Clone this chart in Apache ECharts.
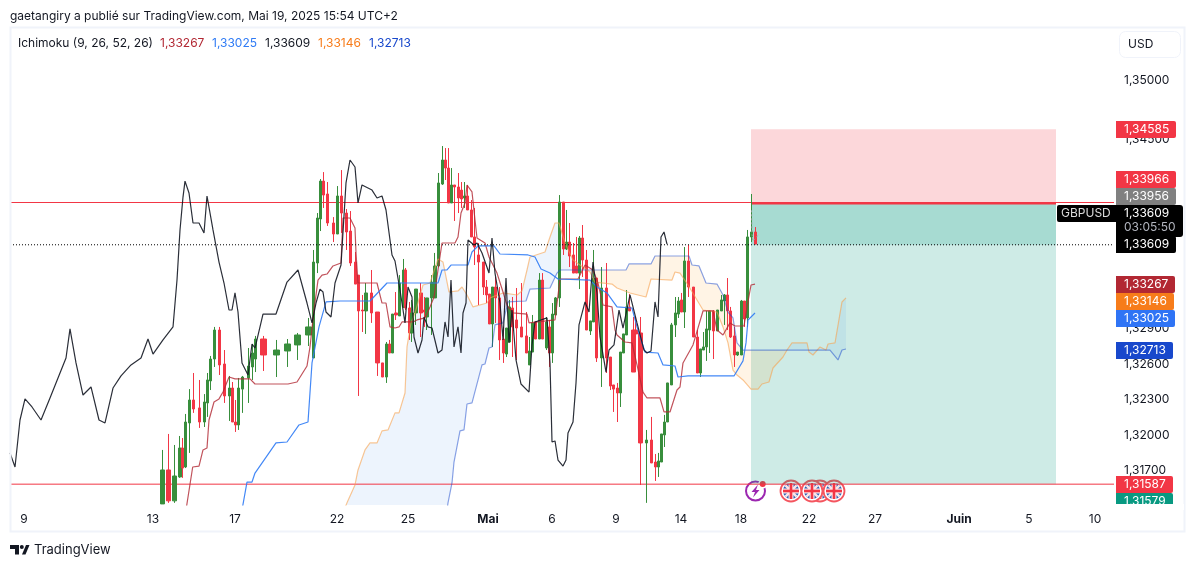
<!DOCTYPE html>
<html><head><meta charset="utf-8">
<script src="https://cdn.jsdelivr.net/npm/echarts@6/dist/echarts.min.js"></script>
<style>html,body{margin:0;padding:0;background:#fff}#c{width:1195px;height:567px}</style>
</head><body><div id="c"></div>
<script>
// prices in points (1 point = 0.00001). Candle rows: time position, open, close, low, high
const wideCandles=[
[263.3,132813,132678,132543,132839],[276.3,132678,132720,132492,132805],[287.3,132712,132771,132577,132813],[297.3,132763,132847,132636,132864],[308.3,132847,132915,132754,132991]];
const mediumCandles=[
[162.3,131420,131707,131420,131876],[168.3,131707,131446,131429,132011],[174.3,131446,131656,131429,131918],
[377.3,133041,132611,132501,133041],[633.3,132889,132534,132534,132999],[640.3,132864,131935,131580,132999]];
const thinCandles=[
[180,131648,131892,131640,131994],[182.5,131892,131723,131640,131977],[185.3,131732,132112,131723,132180],[189.3,132104,132298,131851,132390],[193.3,132298,132222,132189,132526],[199.3,132231,132112,132062,132467],[204.3,132112,132281,132070,132348],[207.3,132273,132467,132155,132526],[210.3,132459,132644,132382,132670],[214.3,132644,132889,132577,132915],[219.3,132889,132594,132509,132915],[224.3,132602,132332,132273,132720],[229.3,132332,132399,132121,132501],[232.3,132399,132112,132112,132450],[235.3,132112,132087,132028,132298],[238.3,132087,132399,132045,132484],[242.3,132390,132492,132189,132501],[248.3,132484,132585,132273,132737],[252.3,132577,132695,132467,132771],[255.3,132644,132813,132534,132839],
[313.3,132653,133463,132653,133565],[317.3,133455,133835,133370,133877],[320.3,133827,134147,133725,134164],[323.3,134147,134029,133920,134223],[327.3,134038,133793,133768,134139],[333.3,133793,133700,133632,133843],[337.3,133700,134021,133700,134105],[341.3,134021,133877,133709,134240],[346.3,133877,133717,133565,133911],[350.3,133725,133455,133430,133894],[355.3,133463,133277,133277,133548],[358.3,133353,133050,132332,133353],[362.3,133058,133050,132872,133185],[366,133050,133202,132856,133286],[371.3,133202,133033,132949,133396],
[382.3,132611,132492,132492,132611],[386.3,132492,132771,132442,132788],[389.3,132771,132695,132695,132805],[392.3,132695,133024,132695,133024],[396,133033,133016,132974,133210],[399.3,133008,133286,133008,133353],[403.3,133084,133396,133075,133489],[405.3,133396,133075,133058,133413],[410,133075,132864,132805,133126],[412,132864,133033,132788,133143],[416,133033,133235,132932,133235],[421,133202,133033,132830,133286],[425,133058,133041,132915,133168],[427,132999,133160,132889,133160],[431.3,133160,133294,132847,133353],[435,133160,133430,133160,133540],[438.3,133430,134131,133421,134215],[442.3,134122,134325,134114,134443],[445.3,134325,134257,134156,134426],[448.3,134257,133962,133962,134426],[451.3,133962,134114,133962,134257],[454.3,134114,134097,133810,134114],[458.3,134097,134004,133877,134215],[461.3,134071,133996,133920,134139],[464.3,134004,134021,133920,134139],[467.3,134021,133903,133903,134114],[471.3,133903,133675,133675,133987],[474.3,133675,133590,133438,133920],[478.3,133523,133463,133100,133624],[483.3,133463,133252,133185,133463],[486.3,133252,133185,133117,133311],[489.3,133193,132940,132940,133193],[492.3,132940,133252,132746,133252],[495.3,133252,133160,132949,133337],[499.3,133160,132805,132636,133252],[503.3,132813,132695,132611,132915],[506.3,132686,132906,132661,132906],[509.3,132788,133084,132788,133143],[512.3,133075,132915,132661,133168],[516.3,132974,132906,132636,133244],[521.3,132915,132830,132830,133286],[526.3,132839,132695,132695,133041],[529.3,132594,132712,132594,132830],[532.3,132703,132949,132703,133016],[535.3,132957,132813,132813,132957],[539.3,132813,133311,132813,133370],[542.3,133311,132813,132813,133370],[546.3,132737,132957,132720,132999],[549.3,132915,132695,132577,132974],[552.3,132695,133024,132611,133117],[555.3,133016,133160,133016,133168],[559.3,133160,133970,133084,134029],[563.3,133970,133573,133523,133970],[566.3,133573,133632,133565,133903],[569.3,133632,133514,133421,133793],[573.3,133523,133370,133370,133624],[576.3,133430,133370,133370,133675],[579.3,133370,133666,133235,133683],[582.3,133666,133480,133337,133776],[586.3,133480,132889,132889,133565],[590.3,132881,132966,132847,132966],[593.3,132957,133328,132957,133565],[596.3,133328,132653,132619,133328],[601.3,132653,133244,132408,133421],[606.3,133244,132653,132526,133455],[610.3,132661,132416,132382,132661],[613.3,132425,132390,132197,132425],[617.3,132399,132357,132112,132442],[620.3,132357,132703,132239,132703],[623.3,132695,132856,132695,132856],[626.3,132847,133084,132847,133227],[629.3,133084,133050,133050,133193],[636,132889,132856,132763,132999],
[646.3,131935,131960,131429,132045],[651.3,131960,131766,131766,132155],[655.3,131774,131732,131614,131842],[658.3,131732,131783,131648,131851],[661.3,131774,132011,131774,132011],[664.3,132003,132112,131901,132172],[667.3,132112,132442,132112,132442],[671.3,132425,132932,132425,132949],[675.3,132932,133033,132830,133168],[678.3,133024,133134,132991,133168],[681.3,133143,133041,133041,133202],[684.3,133041,133472,132906,133590],[688.3,133472,133252,133168,133607],[693.3,133252,132830,132830,133252],[697.3,132830,132526,132526,132889],[700.3,132526,132729,132492,132729],[703.3,132720,132746,132720,132872],[706.3,132746,132898,132628,133050],[709.3,132889,133050,132695,133050],[713.3,133050,132881,132644,133058],[717.3,132881,133058,132881,133058],[721.3,133050,133143,133050,133185],[724.3,133134,133185,132932,133193],[727.3,133185,133050,132889,133328],[730.3,133050,132830,132822,133084],[734.3,132839,132678,132577,132915],[737.3,132678,132703,132670,132703],[741.3,132678,133134,132678,133143],[744.3,133134,132982,132915,133134],[747.3,132991,133675,132915,133734],[751.3,133675,133717,133632,134038],[755.3,133717,133615,133615,133759]];
const tenkan=[[186,131369],[192.7,131732],[199,131740],[203,131876],[207,131892],[209,132129],[214,132281],[219,132307],[223,132365],[229,132492],[235,132476],[250,132476],[255,132433],[288,132433],[297,132450],[307,132585],[310,132746],[314,133058],[318,133311],[322,133353],[327,133362],[333,133430],[341,133455],[343,133835],[350,133835],[355,133751],[356,133540],[358,133286],[377,133286],[382,133117],[386,133117],[390,132915],[395,132906],[399,132915],[402,132957],[413,132957],[417,132974],[425,132991],[430,133084],[434,133168],[438,133396],[442,133624],[455,133624],[458,133675],[461,133877],[465,133962],[467,134114],[472,134055],[475,133818],[477,133666],[485,133624],[489,133506],[497,133370],[503,133210],[507,133100],[513,133033],[527,133024],[529,132949],[555,132974],[560,133320],[578,133320],[585,133438],[593,133396],[598,133286],[603,133100],[612,133084],[615,132889],[617,132847],[625,132788],[632,132780],[637,132594],[643,132365],[647,132315],[660,132315],[664,132197],[670,132197],[677,132382],[680,132408],[683,132611],[693,132763],[703,133050],[713,133050],[717,132889],[723,132847],[730,132949],[735,132923],[744,132923],[747,133084],[751,133269],[755,133277]];
const kijun=[[242,131369],[247,131605],[252,131605],[255,131681],[276,131935],[287,131943],[299,132087],[308,132112],[312,132611],[319,132915],[326,133126],[340,133134],[370,133134],[387,133286],[438,133286],[442,133396],[447,133396],[451,133438],[468,133438],[472,133548],[478,133599],[494,133599],[500,133531],[528,133523],[535,133506],[541,133404],[550,133370],[558,133320],[590,133311],[597,133252],[607,133202],[617,133084],[632,133075],[637,132915],[645,132703],[658,132695],[663,132594],[675,132585],[678,132492],[688,132501],[734,132501],[743,132628],[746,132780],[748,132974],[755,133033]];
const chikou=[[10,131851],[15,131732],[20,132129],[25,132307],[32,132239],[41,132129],[50,132315],[58,132484],[66,132653],[70,132898],[76,132611],[83,132340],[91,132408],[99,132129],[105,132104],[113,132399],[121,132501],[131,132594],[141,132653],[148,132813],[153,132686],[163,132805],[173,132915],[177,133311],[180,133734],[183,134012],[185,134147],[189,134046],[193,133793],[199,133793],[204,133709],[207,134021],[213,133734],[219,133463],[224,133286],[229,133058],[232,133058],[235,133202],[238,133041],[242,132611],[248,132509],[252,132771],[255,132737],[263,133024],[276,133024],[287,133294],[298,133396],[307,133117],[312,132949],[316,133117],[320,133235],[323,133210],[326,133041],[331,132999],[335,133286],[341,133438],[346,134131],[350,134325],[355,134266],[358,133962],[362,134114],[372,134071],[377,134004],[382,134021],[386,133903],[392,133523],[395,133472],[400,133227],[405,132949],[408,133252],[412,133168],[414,132830],[418,132695],[422,132805],[424,132999],[428,132915],[432,132906],[438,132695],[442,132720],[445,132957],[448,132830],[451,133311],[454,132746],[458,132915],[461,132695],[463,133033],[466,133117],[468,133649],[474,133607],[477,133624],[482,133540],[489,133370],[492,133666],[495,133370],[500,133117],[503,132805],[506,133328],[509,132780],[512,133058],[516,132636],[521,132433],[529,132365],[532,132763],[535,132957],[547,132991],[550,132611],[552,131943],[555,131952],[558,131791],[563,131740],[566,131791],[568,132020],[573,132112],[576,132442],[579,132932],[585,133126],[589,133041],[593,133463],[597,133202],[600,132830],[606,132534],[609,132720],[614,132763],[619,133058],[623,132906],[630,133185],[637,132949],[644,132720],[647,132695],[651,132712],[655,133126],[658,132999],[661,133675],[664,133717],[667,133615]];
const senkouA=[[344,131369],[347,131429],[355,131580],[358,131707],[365,131876],[370,131935],[377,131935],[382,132037],[388,132045],[395,132189],[399,132189],[405,132357],[407,132746],[411,132949],[415,133033],[423,133269],[430,133286],[438,133489],[443,133463],[446,133337],[449,133210],[458,133219],[462,133252],[467,133185],[473,133084],[487,133117],[490,133160],[503,133202],[517,133185],[522,133219],[527,133396],[530,133506],[545,133548],[550,133675],[555,133793],[559,133793],[565,133624],[573,133480],[587,133396],[590,133379],[595,133294],[612,133277],[617,133244],[630,133202],[646,133168],[651,133320],[672,133311],[675,133379],[680,133370],[688,133269],[697,133143],[703,133058],[717,133041],[723,132915],[728,132780],[733,132551],[737,132509],[743,132467],[751,132390],[758,132390],[762,132433],[769,132450],[773,132568],[783,132661],[787,132720],[792,132780],[807,132780],[809,132703],[813,132678],[820,132746],[826,132720],[828,132771],[835,132780],[842,133126],[846,133160]];
const senkouB=[[447,131369],[448,131429],[452,131597],[454,131774],[460,132037],[464,132045],[467,132264],[472,132273],[482,132594],[485,132602],[489,132737],[492,132746],[495,132932],[503,132949],[508,133126],[526,133134],[530,133235],[550,133244],[557,133370],[560,133396],[626,133396],[629,133447],[651,133447],[655,133514],[689,133514],[692,133438],[699,133430],[706,133286],[717,133277],[723,133185],[728,133041],[733,132991],[737,132780],[743,132720],[830,132720],[838,132636],[842,132720],[846,132729]];
const cloudSpans=[[344,587,'rgba(60,130,230,0.09)'],[587,787,'rgba(255,152,0,0.10)'],[787,846,'rgba(60,130,230,0.09)']];
const tradePath=[[751.5,133900],[752,133700],[753,133640],[759,133700]];
// trade tool and levels
const entryPrice=133956, stopPrice=134585, targetPrice=131587, lastPrice=133609, levelPrice=133966;
const toolStart=751, toolEnd=1056, paneStart=10, paneEnd=1114;
const zones=[[toolStart,toolEnd,stopPrice,entryPrice,'rgba(242,54,69,0.2)'],[toolStart,toolEnd,entryPrice,targetPrice,'rgba(8,153,129,0.2)'],[toolStart,toolEnd,entryPrice,lastPrice,'rgba(8,153,129,0.2)']];
const yTicks=[135000,134500,134000,133300,132900,132600,132300,132000,131700];
const xTickPos=[24,153,235,337,408,488,552,616,681,741,809,875,959,1029,1095];
const xTickLabels=['9','13','17','22','25','Mai','6','9','14','18','22','27','Juin','5','10'];
const boldLabels=['Mai','Juin'];
const legendValues=[['1,33267','#b22833',160],['1,33025','#2f7bf5',212],['1,33609','#131722',265],['1,33146','#f77c1a',318],['1,32713','#1848cc',369]];
const priceTags=[['1,34585','#f23645',121,60],['1,33966','#f23645',171,60],['1,33956','#808080',188,60],['1,33609','#000000',236,60],['1,33267','#b22833',276,59],['1,33146','#f77c1a',293,58],['1,33025','#2f74f5',310,59],['1,32713','#1848cc',342,57],['1,31587','#f23645',476,57],['1,31579','#089981',493,57]];

const FONT='Inter, "Noto Sans", sans-serif';
const chart=echarts.init(document.getElementById('c'),null,{renderer:'canvas'});
const candle=(name,data,w)=>({type:'candlestick',name,data,barWidth:w,z:3,clip:true,silent:true,
  encode:{x:0,y:[1,2,3,4]},
  itemStyle:{color:'#388e3c',color0:'#f23645',borderColor:'#388e3c',borderColor0:'#f23645',borderWidth:1}});
const line=(name,data,color,opacity,extra)=>Object.assign({type:'line',name,data,symbol:'none',showSymbol:false,clip:true,z:4,silent:true,
  lineStyle:{color,width:1.2,opacity}},extra||{});
const rectItem=(api,r,fill)=>{
  const a=api.coord([r[0],r[2]]),b=api.coord([r[1],r[3]]);
  return {type:'rect',shape:{x:a[0],y:a[1],width:b[0]-a[0],height:b[1]-a[1]},style:{fill}};
};
const g=[];
const txt=(x,y,text,fill,size,extra)=>g.push({type:'text',x,y,z:100,style:Object.assign({text,fill,font:(size||12)+'px '+FONT,textVerticalAlign:'middle'},extra||{})});
txt(10,16,'gaetangiry a publié sur TradingView.com, Mai 19, 2025 15:54 UTC+2','#131722');
txt(18,43,'Ichimoku (9, 26, 52, 26)','#131722');
legendValues.forEach(l=>txt(l[2],43,l[0],l[1]));
g.push({type:'rect',z:90,silent:true,shape:{x:10.5,y:27.5,width:1174,height:504},style:{fill:'none',stroke:'#f0f3fa',lineWidth:2}});
g.push({type:'rect',z:100,shape:{x:1119.5,y:31.5,width:61,height:26,r:6},style:{fill:'#fff',stroke:'#f0f3fa',lineWidth:1}});
txt(1128,44,'USD','#131722');
priceTags.forEach(t=>{
  g.push({type:'rect',z:100,shape:{x:1116,y:t[2],width:t[3],height:17,r:[0,2,2,0]},style:{fill:t[1]}});
  txt(1124,t[2]+8.5,t[0],'#fff');
});
g.push({type:'rect',z:100,shape:{x:1116,y:205,width:67,height:32,r:[0,3,3,0]},style:{fill:'#000'}});
txt(1124,213,'1,33609','#fff');
txt(1124,227,'03:05:50','#b2b5be');
g.push({type:'rect',z:100,shape:{x:1057,y:205,width:59,height:17,r:[2,0,0,2]},style:{fill:'#000'}});
txt(1061,213.5,'GBPUSD','#dddddd');
g.push({type:'rect',z:101,shape:{x:1114,y:504,width:70,height:6},style:{fill:'#fff'}});
const lightning={type:'group',z:110,children:[
 {type:'circle',shape:{cx:755.5,cy:491,r:9.5},style:{fill:'#fff',stroke:'#9c27b0',lineWidth:2}},
 {type:'polygon',shape:{points:[[758,484.5],[751.5,492],[755,492],[753,497.5],[759.5,490],[756,490]]},style:{fill:'#9c27b0'}},
 {type:'circle',shape:{cx:762.7,cy:484,r:4.5},style:{fill:'#fff'}},
 {type:'circle',shape:{cx:762.7,cy:484,r:3},style:{fill:'#f23645'}}]};
g.push(lightning);
[820,834,791,812].forEach((cx,i)=>{
  const cy=491,ch=[
   {type:'circle',shape:{cx,cy,r:10.5},style:{fill:'#fff',stroke:'#f4555f',lineWidth:1.8}},
   {type:'circle',shape:{cx,cy,r:8},style:{fill:'#2f62b5'}}];
  [[-5.6,-5.6,5.6,5.6],[-5.6,5.6,5.6,-5.6]].forEach(l=>ch.push({type:'line',shape:{x1:cx+l[0],y1:cy+l[1],x2:cx+l[2],y2:cy+l[3]},style:{stroke:'#fde4e6',lineWidth:2.4}}));
  ch.push({type:'rect',shape:{x:cx-8,y:cy-2.5,width:16,height:5},style:{fill:'#fde4e6'}});
  ch.push({type:'rect',shape:{x:cx-2.5,y:cy-8,width:5,height:16},style:{fill:'#fde4e6'}});
  ch.push({type:'rect',shape:{x:cx-8,y:cy-1.3,width:16,height:2.6},style:{fill:'#f23645'}});
  ch.push({type:'rect',shape:{x:cx-1.3,y:cy-8,width:2.6,height:16},style:{fill:'#f23645'}});
  g.push({type:'group',z:110+i,children:ch});
});
g.push({type:'polygon',z:100,shape:{points:[[10,545],[19,545],[19,554.5],[15,554.5],[15,549],[10,549]]},style:{fill:'#131722'}});
g.push({type:'polygon',z:100,shape:{points:[[22,554.5],[26,545],[29.5,545],[25.5,554.5]]},style:{fill:'#131722'}});
g.push({type:'circle',z:100,shape:{cx:21.8,cy:547,r:2},style:{fill:'#131722'}});
txt(34,550,'TradingView','#131722',13);

chart.setOption({
  animation:false,
  grid:{left:paneStart,width:paneEnd-paneStart,top:28,height:477,containLabel:false},
  xAxis:{type:'value',min:paneStart,max:paneEnd,splitLine:{show:false},axisLine:{show:false},axisTick:{show:false},
    axisLabel:{customValues:xTickPos,margin:8,color:'#131722',fontFamily:FONT,fontSize:12,
      formatter:v=>{const s=xTickLabels[xTickPos.indexOf(v)];return boldLabels.includes(s)?'{b|'+s+'}':s;},
      rich:{b:{fontWeight:'bold',color:'#131722',fontFamily:FONT,fontSize:12}}}},
  yAxis:{type:'value',position:'right',min:131411,max:135440,scale:true,splitLine:{show:false},axisLine:{show:false},axisTick:{show:false},
    axisLabel:{customValues:yTicks,margin:10,align:'left',color:'#131722',fontFamily:FONT,fontSize:12,padding:[0,0,3,0],
      formatter:v=>(v/100000).toFixed(5).replace('.',',')}},
  graphic:g,
  series:[
    {type:'custom',name:'position',z:1,silent:true,clip:true,data:zones.map((r,i)=>[i]),encode:{x:[],y:[]},
      renderItem:(p,api)=>{const r=zones[p.dataIndex];return rectItem(api,r,r[4]);}},
    {type:'custom',name:'cloud',z:2,silent:true,clip:true,data:cloudSpans.map((r,i)=>[i]),encode:{x:[],y:[]},
      renderItem:(p,api)=>{
        const s=cloudSpans[p.dataIndex];
        const inRange=q=>q[0]>=s[0]&&q[0]<=s[1];
        const pts=senkouA.filter(inRange).concat(senkouB.filter(inRange).reverse()).map(q=>api.coord(q));
        return {type:'polygon',shape:{points:pts},style:{fill:s[2]}};
      }},
    candle('wide',wideCandles,6.5),candle('medium',mediumCandles,4),candle('thin',thinCandles,3),
    line('Level high',[[paneStart,levelPrice],[paneEnd,levelPrice]],'#f23645',1,{z:2,lineStyle:{color:'#f23645',width:1}}),
    line('Level low',[[paneStart,targetPrice],[paneEnd,targetPrice]],'#f23645',1,{z:2,lineStyle:{color:'#f23645',width:1}}),
    line('Entry',[[toolStart,entryPrice],[toolEnd,entryPrice]],'#f23645',1,{z:2,lineStyle:{color:'#f23645',width:1.5}}),
    line('Last',[[paneStart,lastPrice],[paneEnd,lastPrice]],'#000',1,{z:5,lineStyle:{color:'#000',width:1,type:[1,2]}}),
    line('Senkou A',senkouA,'#f7a14e',0.6),
    line('Senkou B',senkouB,'#1848cc',0.5),
    line('Tenkan',tenkan,'#b22833',0.8),
    line('Kijun',kijun,'#2f7bf5',0.9),
    line('Chikou',chikou,'#131722',0.9),
    line('Path',tradePath,'#999',1,{z:5,lineStyle:{color:'#999',width:1,type:[2,2]}})
  ]
});
</script></body></html>
